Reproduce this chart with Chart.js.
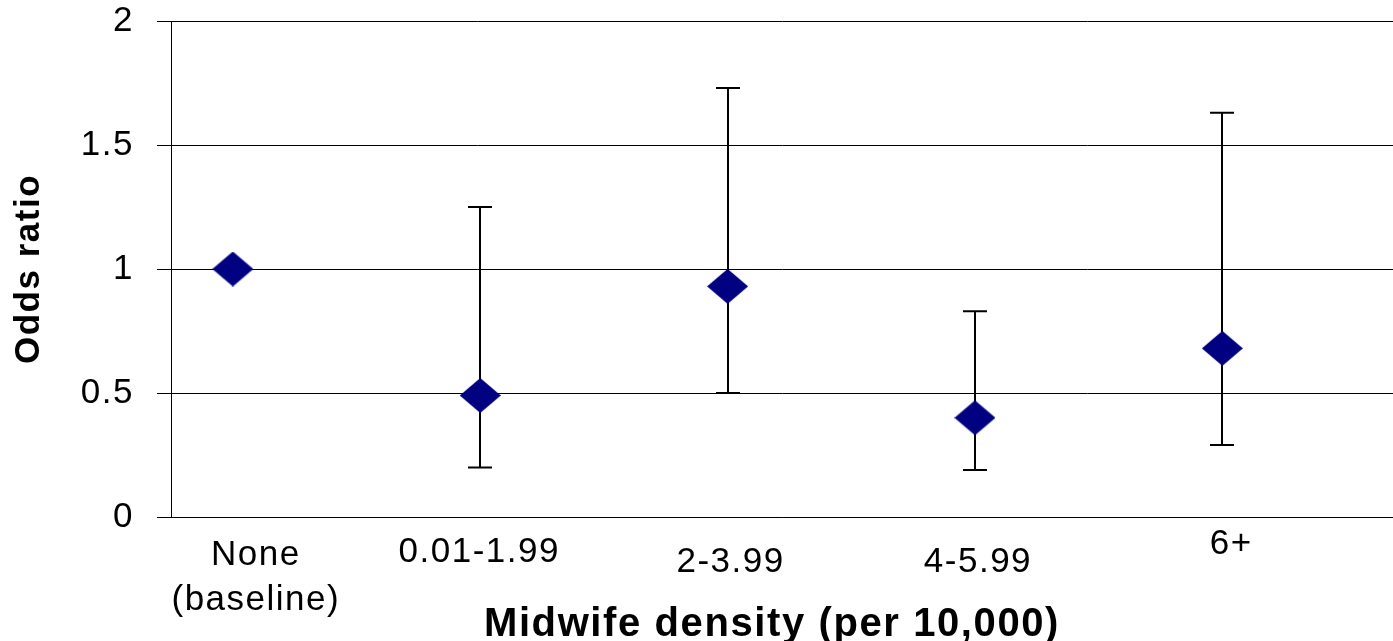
<!DOCTYPE html>
<html>
<head>
<meta charset="utf-8">
<script src="https://cdn.jsdelivr.net/npm/chart.js@4"></script>
<style>
  body { margin: 0; background: #fff; }
  canvas { display: block; }
</style>
</head>
<body>
<canvas id="plot-or" width="1393" height="641"></canvas>
<script>
// categories and odds ratios with 95% CI
const categories = [['None', '(baseline)'], ['0.01-1.99'], ['2-3.99'], ['4-5.99'], ['6+']];
const oddsRatio = [1.00, 0.49, 0.93, 0.40, 0.68];
const ciLower = [null, 0.20, 0.50, 0.19, 0.29];
const ciUpper = [null, 1.25, 1.73, 0.83, 1.63];
const yTicks = [0, 0.5, 1, 1.5, 2];

// label placement (the original has them a bit staggered)
const labelDx = [23, -1, 3, 3, 9];
const labelDy = [48, 45, 55, 55, 37];

const FONT = '"Liberation Sans", Arial, sans-serif';

function diamond(w, h, color) {
    const c = document.createElement('canvas');
    c.width = w;
    c.height = h;
    const g = c.getContext('2d');
    g.fillStyle = color;
    g.beginPath();
    g.moveTo(w / 2, 0);
    g.lineTo(w, h / 2);
    g.lineTo(w / 2, h);
    g.lineTo(0, h / 2);
    g.closePath();
    g.fill();
    return c;
}

const spacing = {
    id: 'spacing',
    beforeDraw(chart) {
        chart.ctx.letterSpacing = '1.5px';
    }
};

const errorBars = {
    id: 'errorBars',
    beforeDatasetsDraw(chart) {
        const ctx = chart.ctx;
        const xs = chart.scales.x, ys = chart.scales.y;
        ctx.save();
        ctx.strokeStyle = '#000';
        ctx.lineWidth = 2;
        for (let i = 0; i < oddsRatio.length; i++) {
            if (ciLower[i] == null) continue;
            const x = Math.round(xs.getPixelForValue(i + 1));
            const y1 = ys.getPixelForValue(ciLower[i]);
            const y2 = ys.getPixelForValue(ciUpper[i]);
            ctx.beginPath();
            ctx.moveTo(x, y1);
            ctx.lineTo(x, y2);
            ctx.moveTo(x - 12, y1);
            ctx.lineTo(x + 12, y1);
            ctx.moveTo(x - 12, y2);
            ctx.lineTo(x + 12, y2);
            ctx.stroke();
        }
        ctx.restore();
    }
};

const xLabels = {
    id: 'xLabels',
    afterDraw(chart) {
        const ctx = chart.ctx;
        const xs = chart.scales.x;
        const base = chart.chartArea.bottom;
        ctx.save();
        ctx.fillStyle = '#000';
        ctx.textAlign = 'center';
        ctx.textBaseline = 'alphabetic';
        ctx.font = '35px ' + FONT;
        ctx.letterSpacing = '1.5px';
        categories.forEach((lines, i) => {
            const x = xs.getPixelForValue(i + 1) + labelDx[i];
            lines.forEach((t, j) => {
                ctx.fillText(t, x, base + labelDy[i] + j * 45);
            });
        });
        ctx.font = 'bold 40px ' + FONT;
        ctx.letterSpacing = '1.6px';
        ctx.fillText('Midwife density (per 10,000)', 772, 636);
        ctx.restore();
    }
};

const data = {
    datasets: [{
        label: 'Odds ratio',
        data: oddsRatio.map((v, i) => ({x: i + 1, y: v})),
        pointStyle: diamond(41, 35, '#000080'),
        backgroundColor: '#000080',
        borderColor: '#000080',
        showLine: false
    }]
};

const config = {
    type: 'scatter',
    data: data,
    options: {
        responsive: false,
        animation: false,
        layout: {
            autoPadding: false,
            padding: {top: 21, right: 0, bottom: 0, left: 0}
        },
        plugins: {
            legend: {display: false},
            tooltip: {enabled: false}
        },
        scales: {
            x: {
                type: 'linear',
                min: 0.75,
                max: 5.69,
                grid: {display: false},
                border: {display: true, color: '#000', width: 1},
                ticks: {display: false},
                afterFit(scale) {
                    scale.height = 124;
                    scale.paddingLeft = 0;
                    scale.paddingRight = 0;
                }
            },
            y: {
                min: 0,
                max: 2,
                afterBuildTicks(scale) {
                    scale.ticks = yTicks.map(v => ({value: v}));
                },
                grid: {
                    color: '#000',
                    lineWidth: 1,
                    drawTicks: true,
                    tickLength: 14
                },
                border: {display: true, color: '#000', width: 1},
                ticks: {
                    color: '#000',
                    padding: 23,
                    font: {family: FONT, size: 35},
                    callback: v => String(v)
                },
                title: {
                    display: true,
                    text: 'Odds ratio',
                    color: '#000',
                    font: {family: FONT, size: 35, weight: 'bold'},
                    padding: {top: 8, bottom: 0}
                },
                afterFit(scale) {
                    scale.width = 171;
                    scale.paddingTop = 0;
                    scale.paddingBottom = 0;
                }
            }
        }
    },
    plugins: [spacing, errorBars, xLabels]
};

new Chart(document.getElementById('plot-or').getContext('2d'), config);
</script>
</body>
</html>
